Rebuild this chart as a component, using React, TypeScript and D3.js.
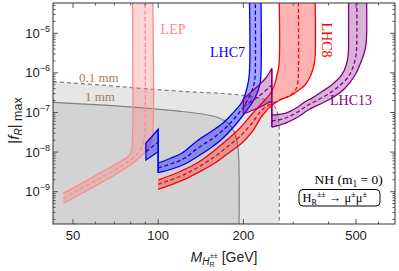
import React from "react";
import * as d3 from "d3";

type Pt = [number, number];

// axis ticks
const xTicks = [50, 100, 200, 500];
const xMinor = [60, 70, 80, 90, 300, 400, 600];
const yTicks = [1e-5, 1e-6, 1e-7, 1e-8, 1e-9];
const yTickExp = ["−5", "−6", "−7", "−8", "−9"];

// decay length regions (M [GeV], |f_R|max)
const mm01Edge: Pt[] = [[42.5, 6.0e-7], [62.3, 4.95e-7], [86.3, 4.08e-7], [129.6, 3.33e-7], [169.4, 3.02e-7], [202.7, 2.69e-7], [232.7, 2.26e-7], [248.4, 1.84e-7], [258.7, 1.38e-7], [265.1, 8.65e-8], [267.3, 4.83e-8], [267.9, 2.02e-8], [267.9, 1e-10]];
const mm1Edge: Pt[] = [[42.5, 1.81e-7], [62.3, 1.55e-7], [86.3, 1.32e-7], [119.4, 1.07e-7], [146.4, 8.9e-8], [162.6, 7.48e-8], [173.6, 5.93e-8], [180.8, 4.43e-8], [186.8, 2.86e-8], [190.6, 1.6e-8], [192.7, 6.32e-9], [193, 1e-10]];

// LEP
const lepUpper: Pt[] = [[46.2, 9.1e-10], [73.3, 5.7e-9], [78.2, 7.5e-9], [80.5, 1.13e-8], [81.1, 2.0e-8], [81.1, 1e-4]];
const lepMid: Pt[] = [[46.2, 6.8e-10], [75.1, 4.7e-9], [81.5, 7.1e-9], [86.3, 1.13e-8], [89.1, 2.0e-8], [89.8, 3.6e-8], [89.8, 1e-4]];
const lepLower: Pt[] = [[46.2, 5.1e-10], [73.3, 3.2e-9], [84.0, 6.3e-9], [91.1, 1.13e-8], [94.3, 1.7e-8], [95.6, 2.7e-8], [95.6, 1e-4]];

// LHC7 (two pieces, jump at 100 GeV)
const lhc7UpperA: Pt[] = [[90.5, 1.67e-8], [100, 3.77e-8]];
const lhc7MidA: Pt[] = [[90.5, 1.02e-8], [100, 1.8e-8]];
const lhc7LowerA: Pt[] = [[90.5, 6.32e-9], [100, 1.02e-8]];
const lhc7UpperB: Pt[] = [[100, 5.22e-9], [110, 6.9e-9], [121.4, 9.49e-9], [137.2, 1.91e-8], [154.9, 3.41e-8], [169.4, 5.43e-8], [182.3, 9.17e-8], [197.8, 1.84e-7], [206, 4.16e-7], [209.9, 9.38e-7], [209.9, 1e-4]];
const lhc7MidB: Pt[] = [[100, 3.97e-9], [111.9, 5.15e-9], [123.4, 6.9e-9], [138.2, 1.27e-8], [154.9, 2.14e-8], [168.1, 3.41e-8], [185.3, 6.85e-8], [201, 1.46e-7], [212.8, 3.11e-7], [218.9, 5.89e-7], [220.3, 1.05e-6], [220.3, 1e-4]];
const lhc7LowerB: Pt[] = [[100, 3.02e-9], [111.9, 3.74e-9], [124.4, 5.01e-9], [140.6, 8.45e-9], [154.9, 1.35e-8], [168.1, 2.14e-8], [189.9, 5.43e-8], [206, 1.16e-7], [219.8, 2.32e-7], [228.9, 5.24e-7], [230.8, 9.94e-7], [230.8, 1e-4]];

// LHC8
const lhc8Upper: Pt[] = [[100, 1.97e-9], [119.4, 3.24e-9], [137.2, 5.3e-9], [158.7, 1.13e-8], [176.4, 2.14e-8], [194.6, 4.06e-8], [214.6, 9.17e-8], [234.6, 1.84e-7], [248.4, 2.93e-7], [256.6, 4.67e-7], [262.9, 8.85e-7], [267.3, 1.68e-6], [267.3, 1e-4]];
const lhc8Mid: Pt[] = [[100, 1.54e-9], [120.4, 2.49e-9], [138.2, 4.13e-9], [158.7, 7.74e-9], [177.9, 1.47e-8], [196.2, 2.63e-8], [214.6, 5.43e-8], [232.7, 1.16e-7], [252.5, 1.69e-7], [273.9, 2.19e-7], [292.2, 2.69e-7], [304.3, 3.49e-7], [310.6, 5.24e-7], [312.7, 8.85e-7], [312.7, 1e-4]];
const lhc8Lower: Pt[] = [[100, 1.15e-9], [122.3, 1.97e-9], [140.6, 3.24e-9], [158.7, 5.3e-9], [179.3, 1.01e-8], [197.8, 1.7e-8], [214.6, 3.22e-8], [232.7, 8.15e-8], [248.4, 1.38e-7], [269.4, 2.07e-7], [292.2, 2.61e-7], [314.5, 3.7e-7], [330.2, 4.95e-7], [343.9, 7.88e-7], [353.8, 1.41e-6], [358.2, 2.38e-6], [358.2, 1e-4]];

// LHC13 (two pieces, jump at 252 GeV)
const lhc13UpperA: Pt[] = [[200, 2.19e-7], [225, 4.67e-7], [240, 7.43e-7], [252, 1.31e-6]];
const lhc13MidA: Pt[] = [[200, 1.42e-7], [225, 2.46e-7], [252, 4.95e-7]];
const lhc13LowerA: Pt[] = [[200, 9.17e-8], [225, 1.3e-7], [252, 1.95e-7]];
const lhc13UpperB: Pt[] = [[252, 8.65e-8], [280.5, 9.55e-8], [312.7, 1.4e-7], [330, 1.87e-7], [348.7, 2.28e-7], [378, 3.35e-7], [410, 4.95e-7], [445, 8.85e-7], [463, 1.68e-6], [470, 3.37e-6], [470.6, 6.77e-6], [470.6, 1e-4]];
const lhc13MidB: Pt[] = [[252, 6.1e-8], [280.5, 7.14e-8], [312.7, 1.05e-7], [334, 1.46e-7], [358, 1.9e-7], [394, 2.77e-7], [432, 4.4e-7], [469, 7.88e-7], [488, 1.41e-6], [500, 2.83e-6], [503, 5.06e-6], [503, 1e-4]];
const lhc13LowerB: Pt[] = [[252, 4.3e-8], [280.5, 5.34e-8], [312.7, 7.83e-8], [339, 1.16e-7], [368, 1.55e-7], [410, 2.28e-7], [457, 4.08e-7], [496, 8.85e-7], [524, 2.12e-6], [540, 4.25e-6], [544.6, 7.61e-6], [544.6, 1e-4]];

const W = 399;
const H = 271;
const L = 53, R = 395, T = 3, B = 224;
const SANS = "'Liberation Sans', Arial, sans-serif";
const SERIF = "'Liberation Serif', 'Times New Roman', serif";

type Piece = { up: Pt[]; mid: Pt[]; lo: Pt[]; closed: boolean };
type Band = { pieces: Piece[]; stroke: string; fill: string };

const bands: Band[] = [
  { pieces: [{ up: lepUpper, mid: lepMid, lo: lepLower, closed: false }], stroke: "#ff8a8a", fill: "rgba(255,120,120,0.3)" },
  {
    pieces: [
      { up: lhc7UpperA, mid: lhc7MidA, lo: lhc7LowerA, closed: true },
      { up: lhc7UpperB, mid: lhc7MidB, lo: lhc7LowerB, closed: false },
    ],
    stroke: "#0000ff",
    fill: "rgba(0,0,255,0.35)",
  },
  { pieces: [{ up: lhc8Upper, mid: lhc8Mid, lo: lhc8Lower, closed: false }], stroke: "#ff0000", fill: "rgba(255,0,0,0.3)" },
  {
    pieces: [
      { up: lhc13UpperA, mid: lhc13MidA, lo: lhc13LowerA, closed: true },
      { up: lhc13UpperB, mid: lhc13MidB, lo: lhc13LowerB, closed: false },
    ],
    stroke: "#800080",
    fill: "rgba(128,0,128,0.3)",
  },
];

const App: React.FC = () => {
  const x = d3.scaleLog().domain([42.5, 686.6]).range([L, R]);
  const y = d3.scaleLog().domain([1.528e-10, 5.82e-5]).range([B, T]);

  const smooth = d3
    .line<Pt>()
    .x((d) => x(d[0]))
    .y((d) => y(d[1]))
    .curve(d3.curveCatmullRom.alpha(0.5));
  const straight = d3
    .line<Pt>()
    .x((d) => x(d[0]))
    .y((d) => y(d[1]));

  const fillPath = (up: Pt[], lo: Pt[]) =>
    (smooth(up) || "") + (smooth([...lo].reverse()) || "").replace(/^M/, "L") + "Z";

  const regionPath = (edge: Pt[]) =>
    (smooth(edge) || "") + `L${x(edge[edge.length - 1][0])},${B + 20}L${L - 5},${B + 20}Z`;

  const yMinor: number[] = [];
  for (let e = -10; e <= -5; e++) {
    for (let k = 2; k <= 9; k++) {
      const v = k * Math.pow(10, e);
      if (v > y.domain()[0] && v < y.domain()[1]) yMinor.push(v);
    }
  }

  return (
    <svg width={W} height={H} style={{ position: "absolute", left: 0, top: 0, background: "#fff" }}>
      <defs>
        <clipPath id="plot">
          <rect x={L} y={T} width={R - L} height={B - T} />
        </clipPath>
      </defs>

      <g clipPath="url(#plot)">
        <path d={regionPath(mm01Edge)} fill="#e6e6e6" />
        <path d={regionPath(mm1Edge)} fill="#d3d3d3" />
        <path d={smooth(mm01Edge) || ""} fill="none" stroke="#808080" strokeWidth={1.2} strokeDasharray="4,3" />
        <path d={smooth(mm1Edge) || ""} fill="none" stroke="#808080" strokeWidth={1.2} />

        {bands.map((b, bi) => (
          <g key={bi}>
            {b.pieces.map((p, pi) => (
              <path key={"f" + pi} d={fillPath(p.up, p.lo)} fill={b.fill} stroke="none" />
            ))}
            {b.pieces.map((p, pi) => (
              <g key={"s" + pi} fill="none" stroke={b.stroke} strokeWidth={1.3}>
                {p.closed ? (
                  <path d={fillPath(p.up, p.lo)} />
                ) : (
                  <>
                    <path d={smooth(p.up) || ""} />
                    <path d={smooth(p.lo) || ""} />
                  </>
                )}
                <path d={smooth(p.mid) || ""} strokeDasharray="4,2.5" />
                {pi > 0 && (
                  <>
                    <path d={straight([b.pieces[pi - 1].up[b.pieces[pi - 1].up.length - 1], p.up[0]]) || ""} />
                    <path d={straight([b.pieces[pi - 1].lo[b.pieces[pi - 1].lo.length - 1], p.lo[0]]) || ""} />
                    <path d={straight([p.up[0], p.lo[0]]) || ""} />
                  </>
                )}
              </g>
            ))}
          </g>
        ))}
      </g>

      {/* in-plot labels */}
      <text x={x(52.5)} y={y(5.72e-7)} fontFamily={SERIF} fontSize={13} fill="#a5805a">0.1 mm</text>
      <text x={x(55.1)} y={y(1.9e-7)} fontFamily={SERIF} fontSize={13} fill="#a5805a">1 mm</text>
      <text x={x(102)} y={y(9.6e-6)} fontFamily={SERIF} fontSize={14} fill="#ff8a8a">LEP</text>
      <text x={x(152.4)} y={y(2.56e-6)} fontFamily={SERIF} fontSize={14} fill="#0000ff">LHC7</text>
      <text
        transform={`translate(${x(379)},${y(6.77e-6)}) rotate(90)`}
        textAnchor="middle"
        fontFamily={SERIF}
        fontSize={14}
        fill="#ff0000"
      >
        LHC8
      </text>
      <text x={x(404.6)} y={y(1.59e-7)} fontFamily={SERIF} fontSize={14} fill="#800080">LHC13</text>

      <text x={x(621.6)} y={y(1.56e-9)} textAnchor="end" fontFamily={SERIF} fontSize={13.5} fill="#000">
        NH (m<tspan fontSize={9.5} dy={3}>1</tspan>
        <tspan dy={-3}> = 0)</tspan>
      </text>
      <rect x={299} y={189.5} width={81} height={16.5} rx={4} fill="#fff" stroke="#000" strokeWidth={1} />
      <text x={302.5} y={201.5} fontFamily={SERIF} fontSize={12.5} fill="#000">
        H<tspan fontSize={8} dy={3}>R</tspan>
        <tspan fontSize={8} dy={-7.5}>±±</tspan>
        <tspan dy={4.5}> → μ</tspan>
        <tspan fontSize={8.5} dy={-5}>±</tspan>
        <tspan dy={5}>μ</tspan>
        <tspan fontSize={8.5} dy={-5}>±</tspan>
      </text>

      {/* frame and ticks */}
      <g stroke="#555" strokeWidth={1}>
        {xTicks.map((t) => (
          <g key={"xt" + t}>
            <line x1={x(t)} x2={x(t)} y1={B} y2={B - 5} />
            <line x1={x(t)} x2={x(t)} y1={T} y2={T + 5} />
          </g>
        ))}
        {xMinor.map((t) => (
          <g key={"xm" + t}>
            <line x1={x(t)} x2={x(t)} y1={B} y2={B - 2.5} />
            <line x1={x(t)} x2={x(t)} y1={T} y2={T + 2.5} />
          </g>
        ))}
        {yTicks.map((t) => (
          <g key={"yt" + t}>
            <line x1={L} x2={L + 5} y1={y(t)} y2={y(t)} />
            <line x1={R} x2={R - 5} y1={y(t)} y2={y(t)} />
          </g>
        ))}
        {yMinor.map((t, i) => (
          <g key={"ym" + i}>
            <line x1={L} x2={L + 2.5} y1={y(t)} y2={y(t)} />
            <line x1={R} x2={R - 2.5} y1={y(t)} y2={y(t)} />
          </g>
        ))}
      </g>
      <rect x={L} y={T} width={R - L} height={B - T} fill="none" stroke="#333" strokeWidth={1} />

      {xTicks.map((t) => (
        <text key={"xl" + t} x={x(t)} y={B + 16} textAnchor="middle" fontFamily={SANS} fontSize={13} fill="#222">
          {t}
        </text>
      ))}
      {yTicks.map((t, i) => (
        <text key={"yl" + t} x={L - 3} y={y(t) + 4.5} textAnchor="end" fontFamily={SANS} fontSize={13} fill="#222">
          10<tspan fontSize={9} dy={-6}>{yTickExp[i]}</tspan>
        </text>
      ))}

      <text transform={`translate(19,${(T + B) / 2 + 7}) rotate(-90)`} textAnchor="middle" fontFamily={SANS} fontSize={15} fill="#222">
        |<tspan fontStyle="italic">f</tspan>
        <tspan fontSize={10} fontStyle="italic" dy={3}>R</tspan>
        <tspan dy={-3}>|</tspan>
        <tspan fontSize={12.5} dy={3}> max</tspan>
      </text>

      <text x={(L + R) / 2} y={B + 38} textAnchor="middle" fontFamily={SANS} fontSize={14} fill="#222">
        <tspan fontStyle="italic">M</tspan>
        <tspan fontSize={10} fontStyle="italic" dy={3}>H</tspan>
        <tspan fontSize={7} dy={2}>R</tspan>
        <tspan fontSize={7} dx={-4.5} dy={-9}>±±</tspan>
        <tspan dy={4} dx={4}>[GeV]</tspan>
      </text>
    </svg>
  );
};

export default App;
